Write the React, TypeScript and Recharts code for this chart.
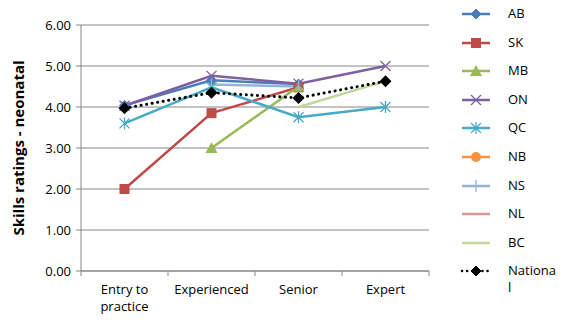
import React from "react";
import { LineChart, Line, XAxis, YAxis, CartesianGrid } from "recharts";

const categories = ["Entry to practice", "Experienced", "Senior", "Expert"];
const AB = [4.04, 4.65, 4.56, null];
const SK = [2.0, 3.85, 4.48, null];
const MB = [null, 3.0, 4.5, null];
const ON = [4.03, 4.76, 4.57, 5.0];
const QC = [3.6, 4.48, 3.75, 4.0];
const NB = [null, null, null, null];
const NS = [null, 4.55, 4.5, null];
const NL = [null, null, null, null];
const BC = [null, null, 4.0, 4.63];
const National = [3.97, 4.35, 4.22, 4.63];
const yTicks = [0, 1, 2, 3, 4, 5, 6];

const series = [
  { key: "AB", values: AB, color: "#4A7EBB", marker: "diamond" },
  { key: "SK", values: SK, color: "#BE4B48", marker: "square" },
  { key: "MB", values: MB, color: "#98B954", marker: "triangle" },
  { key: "ON", values: ON, color: "#7D60A0", marker: "x" },
  { key: "QC", values: QC, color: "#46AAC5", marker: "star" },
  { key: "NB", values: NB, color: "#F69240", marker: "circle" },
  { key: "NS", values: NS, color: "#95B3D7", marker: "plus" },
  { key: "NL", values: NL, color: "#D99694", marker: "none" },
  { key: "BC", values: BC, color: "#C3D69B", marker: "none" },
  { key: "National", values: National, color: "#000000", marker: "bigdiamond" },
];

const data = categories.map((c, i) => {
  const row: any = { cat: c };
  series.forEach((s) => (row[s.key] = s.values[i]));
  return row;
});

const FONT = "'Open Sans', 'Liberation Sans', sans-serif";

function Marker({ type, cx, cy, color }: any) {
  if (cx == null || cy == null || isNaN(cx) || isNaN(cy)) return null;
  switch (type) {
    case "diamond":
      return <path d={`M${cx},${cy - 5}L${cx + 5},${cy}L${cx},${cy + 5}L${cx - 5},${cy}Z`} fill={color} stroke={color} />;
    case "bigdiamond":
      return <path d={`M${cx},${cy - 6}L${cx + 6},${cy}L${cx},${cy + 6}L${cx - 6},${cy}Z`} fill={color} />;
    case "square":
      return <rect x={cx - 5} y={cy - 5} width={10} height={10} fill={color} />;
    case "triangle":
      return <path d={`M${cx},${cy - 6}L${cx + 6},${cy + 5}L${cx - 6},${cy + 5}Z`} fill={color} />;
    case "x":
      return <path d={`M${cx - 5},${cy - 5}L${cx + 5},${cy + 5}M${cx + 5},${cy - 5}L${cx - 5},${cy + 5}`} stroke={color} strokeWidth={1.3} fill="none" />;
    case "star":
      return <path d={`M${cx - 5},${cy - 5}L${cx + 5},${cy + 5}M${cx + 5},${cy - 5}L${cx - 5},${cy + 5}M${cx},${cy - 6}L${cx},${cy + 6}`} stroke={color} strokeWidth={1.3} fill="none" />;
    case "circle":
      return <circle cx={cx} cy={cy} r={5} fill={color} />;
    case "plus":
      return <path d={`M${cx},${cy - 6}L${cx},${cy + 6}`} stroke={color} strokeWidth={1.3} fill="none" />;
    default:
      return null;
  }
}

const XTick = (props: any) => {
  const { x, y, payload, index } = props;
  const half = payload.offset || 43.5;
  const lines = payload.value === "Entry to practice" ? ["Entry to", "practice"] : [payload.value];
  return (
    <g>
      <line x1={x - half} x2={x - half} y1={y - 8} y2={y - 3} stroke="#868686" />
      {index === categories.length - 1 && (
        <line x1={x + half} x2={x + half} y1={y - 8} y2={y - 3} stroke="#868686" />
      )}
      {lines.map((l, i) => (
        <text key={i} x={x} y={y + 15 + i * 17} textAnchor="middle" fontSize={13} fontFamily={FONT} fill="#000">
          {l}
        </text>
      ))}
    </g>
  );
};

const YTick = (props: any) => {
  const { x, y, payload } = props;
  return (
    <text x={x - 3} y={y + 4.5} textAnchor="end" fontSize={13} fontFamily={FONT} fill="#000">
      {Number(payload.value).toFixed(2)}
    </text>
  );
};

function LegendBox() {
  return (
    <div style={{ position: "absolute", left: 460, top: 0, width: 107 }}>
      {series.map((s, i) => (
        <div key={s.key} style={{ position: "absolute", top: 14 + i * 28.6 - 10, left: 0, height: 20 }}>
          <svg width={36} height={20} style={{ position: "absolute", left: 0, top: 0 }}>
            <line
              x1={2}
              x2={30}
              y1={10}
              y2={10}
              stroke={s.color}
              strokeWidth={2.5}
              strokeDasharray={s.key === "National" ? "0.1 5" : undefined}
              strokeLinecap={s.key === "National" ? "round" : "butt"}
            />
            <Marker type={s.marker === "bigdiamond" ? "diamond" : s.marker} cx={16} cy={10} color={s.color} />
          </svg>
          <div
            style={{
              position: "absolute",
              left: 48,
              top: 1,
              fontFamily: FONT,
              fontSize: 13,
              lineHeight: "17px",
              width: 50,
              whiteSpace: "pre",
              color: "#000",
            }}
          >
            {s.key === "National" ? "Nationa\nl" : s.key}
          </div>
        </div>
      ))}
    </div>
  );
}

export default function App() {
  return (
    <div style={{ position: "absolute", left: 0, top: 0, width: 567, height: 320, background: "#fff" }}>
      <LineChart width={567} height={320} data={data} margin={{ top: 25, right: 138, bottom: 0, left: 0 }}>
        <CartesianGrid vertical={false} stroke="#868686" strokeWidth={1} horizontalValues={yTicks} />
        <XAxis
          dataKey="cat"
          scale="band"
          height={49}
          stroke="#868686"
          tickLine={false}
          tick={<XTick />}
          interval={0}
        />
        <YAxis
          width={81}
          domain={[0, 6]}
          ticks={yTicks}
          stroke="#868686"
          tickSize={5}
          tick={<YTick />}
        />
        {series.map((s) => (
          <Line
            key={s.key}
            dataKey={s.key}
            stroke={s.color}
            strokeWidth={s.key === "National" ? 3 : 2.5}
            strokeDasharray={s.key === "National" ? "0.1 5.5" : undefined}
            strokeLinecap={s.key === "National" ? "round" : "butt"}
            isAnimationActive={false}
            connectNulls={false}
            dot={(p: any) => <Marker key={`${s.key}-${p.index}`} type={s.marker} cx={p.cx} cy={p.cy} color={s.color} />}
            activeDot={false}
          />
        ))}
      </LineChart>
      <svg width={40} height={320} style={{ position: "absolute", left: 0, top: 0 }}>
        <text
          x={24}
          y={148}
          transform="rotate(-90 24 148)"
          textAnchor="middle"
          fontSize={15}
          fontWeight="bold"
          fontFamily={FONT}
          fill="#000"
        >
          Skills ratings - neonatal
        </text>
      </svg>
      <LegendBox />
    </div>
  );
}
